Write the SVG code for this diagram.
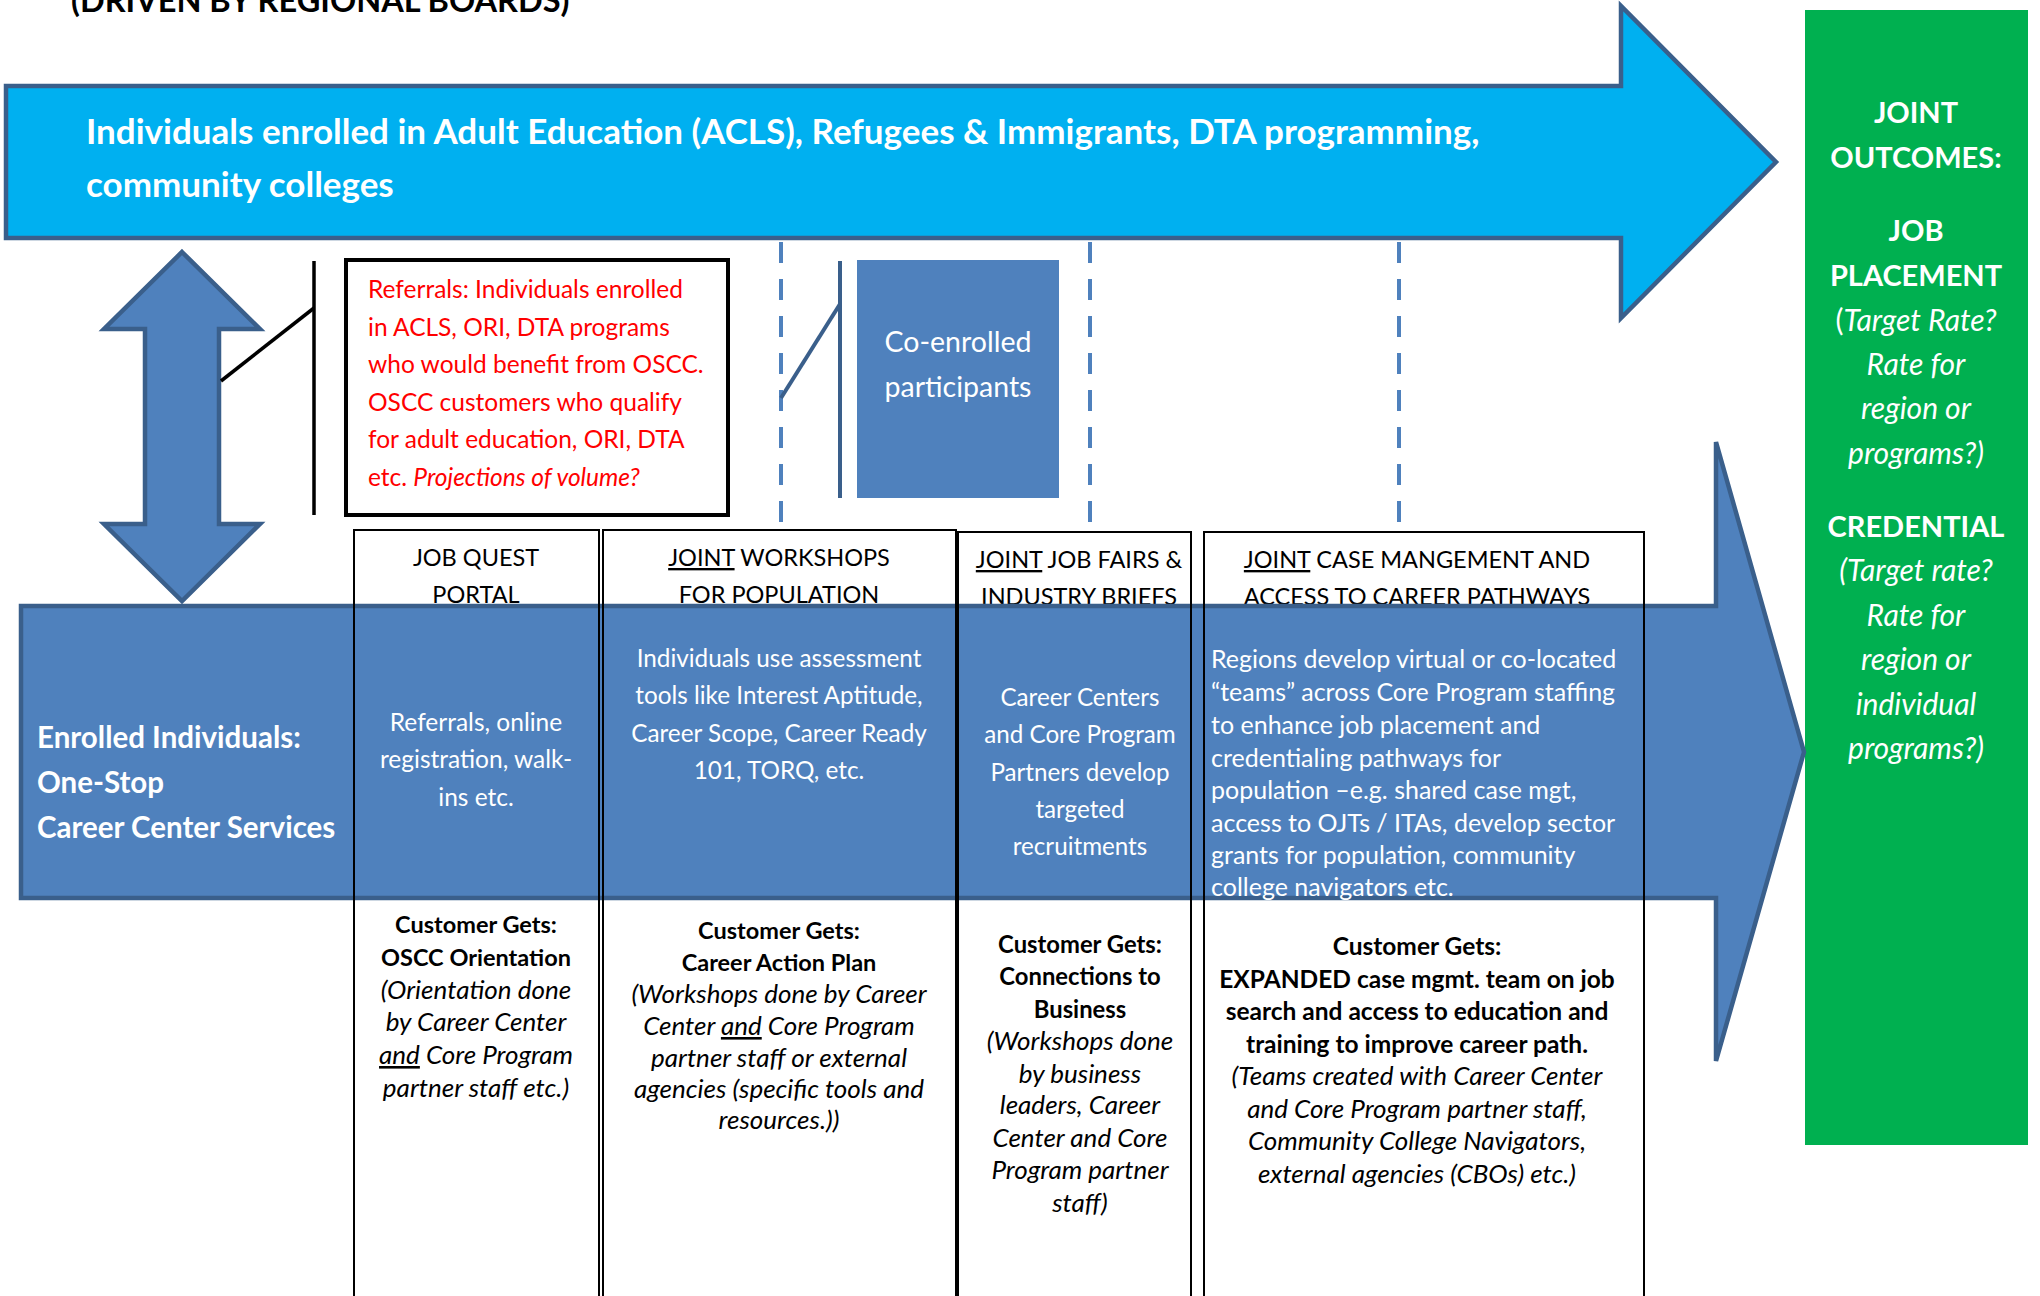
<svg xmlns="http://www.w3.org/2000/svg" width="2040" height="1296" viewBox="0 0 2040 1296">
<style>
text{font-family:Lato,"Open Sans","Liberation Sans",sans-serif}
.b{font-weight:bold}
.i{font-style:italic}
.w{fill:#FFFFFF}
.k{fill:#000000}
.r{fill:#FF0000}
.m{text-anchor:middle}
.u{text-decoration:underline}
.arrowLB{fill:#00B0F0;stroke:#3A5F8B;stroke-width:4.5;stroke-linejoin:miter}
.arrowMB{fill:#4F81BD;stroke:#3A5F8B;stroke-width:4.5;stroke-linejoin:miter}
.col{fill:none;stroke:#000000;stroke-width:2}
.dash{stroke:#4F81BD;stroke-width:4;stroke-dasharray:21 16;fill:none}
.it{font-style:italic;font-size:26px}
</style>

<text id="title" class="b k" x="71" y="12" font-size="32.5">(DRIVEN BY REGIONAL BOARDS)</text>

<g id="outcomes">
<rect x="1805" y="10" width="223" height="1135" fill="#00B050"/>
<g class="w m" font-size="29">
<text class="b" x="1916" y="123">JOINT</text>
<text class="b" x="1916" y="168">OUTCOMES:</text>
<text class="b" x="1916" y="241">JOB</text>
<text class="b" x="1916" y="286">PLACEMENT</text>
<text x="1916" y="331" font-size="30">(<tspan class="i">Target Rate?</tspan></text>
<text class="i" x="1916" y="375" font-size="30">Rate for</text>
<text class="i" x="1916" y="419" font-size="30">region or</text>
<text class="i" x="1916" y="464" font-size="30">programs?)</text>
<text class="b" x="1916" y="537">CREDENTIAL</text>
<text class="i" x="1916" y="581" font-size="30">(Target rate?</text>
<text class="i" x="1916" y="626" font-size="30">Rate for</text>
<text class="i" x="1916" y="670" font-size="30">region or</text>
<text class="i" x="1916" y="715" font-size="30">individual</text>
<text class="i" x="1916" y="759" font-size="30">programs?)</text>
</g>
</g>

<g id="partner-programs">
<polygon class="arrowLB" points="6,86 1621,86 1621,6 1776,162 1621,318 1621,238 6,238"/>
<text class="b w" x="86" y="144" font-size="35">Individuals enrolled in Adult Education (ACLS), Refugees &amp; Immigrants, DTA programming,</text>
<text class="b w" x="86" y="197" font-size="35">community colleges</text>
</g>

<g id="two-way-arrow">
<polygon class="arrowMB" points="182,252 260,329 219,329 219,524 260,524 182,601 104,524 145,524 145,329 104,329"/>
</g>

<g id="connectors">
<line x1="221" y1="381" x2="314" y2="308" stroke="#000" stroke-width="3.5"/>
<line x1="314" y1="261" x2="314" y2="515" stroke="#000" stroke-width="3.5"/>
<line class="dash" x1="781" y1="242" x2="781" y2="533"/>
<line class="dash" x1="1090" y1="242" x2="1090" y2="533"/>
<line class="dash" x1="1399" y1="242" x2="1399" y2="533"/>
<line x1="781" y1="398" x2="840" y2="304" stroke="#3A5F8B" stroke-width="4"/>
<line x1="840" y1="261" x2="840" y2="498" stroke="#3A5F8B" stroke-width="4"/>
</g>

<g id="referrals">
<rect x="346" y="260" width="382" height="255" fill="#FFFFFF" stroke="#000" stroke-width="4"/>
<g class="r" font-size="24.5">
<text x="368" y="298">Referrals: Individuals enrolled</text>
<text x="368" y="336">in ACLS, ORI, DTA programs</text>
<text x="368" y="373">who would benefit from OSCC.</text>
<text x="368" y="411">OSCC customers who qualify</text>
<text x="368" y="448">for adult education, ORI, DTA</text>
<text x="368" y="486">etc. <tspan class="i">Projections of volume?</tspan></text>
</g>
</g>

<g id="co-enrolled">
<rect x="857" y="260" width="202" height="238" fill="#4F81BD"/>
<text class="w m" x="958" y="352" font-size="28.5">Co-enrolled</text>
<text class="w m" x="958" y="397" font-size="28.5">participants</text>
</g>

<g id="column-headers" class="k m" font-size="23.5">
<text x="476" y="566">JOB QUEST</text>
<text x="476" y="603">PORTAL</text>
<text x="779" y="566"><tspan class="u">JOINT</tspan> WORKSHOPS</text>
<text x="779" y="603">FOR POPULATION</text>
<text x="1079" y="568"><tspan class="u">JOINT</tspan> JOB FAIRS &amp;</text>
<text x="1079" y="605">INDUSTRY BRIEFS</text>
<text x="1417" y="568"><tspan class="u">JOINT</tspan> CASE MANGEMENT AND</text>
<text x="1417" y="605">ACCESS TO CAREER PATHWAYS</text>
</g>

<g id="one-stop">
<polygon class="arrowMB" points="21,606 1716,606 1716,442 1804,752 1716,1061 1716,898 21,898"/>
<g class="b w" font-size="29.5">
<text x="37" y="748">Enrolled Individuals:</text>
<text x="37" y="793">One-Stop</text>
<text x="37" y="838">Career Center Services</text>
</g>
</g>

<g id="col-job-quest">
<rect class="col" x="354" y="530" width="245" height="790"/>
<g class="w m" font-size="24.5">
<text x="476" y="731">Referrals, online</text>
<text x="476" y="768">registration, walk-</text>
<text x="476" y="806">ins etc.</text>
</g>
<g class="k m" font-size="23.5">
<text class="b" x="476" y="933">Customer Gets:</text>
<text class="b" x="476" y="966">OSCC Orientation</text>
<text class="it" x="476" y="999">(Orientation done</text>
<text class="it" x="476" y="1031">by Career Center</text>
<text class="it" x="476" y="1064"><tspan class="u">and</tspan> Core Program</text>
<text class="it" x="476" y="1097">partner staff etc.)</text>
</g>
</g>

<g id="col-workshops">
<rect class="col" x="603" y="530" width="353" height="790"/>
<g class="w m" font-size="24.3">
<text x="779" y="667">Individuals use assessment</text>
<text x="779" y="704">tools like Interest Aptitude,</text>
<text x="779" y="742">Career Scope, Career Ready</text>
<text x="779" y="779">101, TORQ, etc.</text>
</g>
<g class="k m" font-size="23.5">
<text class="b" x="779" y="939">Customer Gets:</text>
<text class="b" x="779" y="971">Career Action Plan</text>
<text class="it" x="779" y="1003">(Workshops done by Career</text>
<text class="it" x="779" y="1035">Center <tspan class="u">and</tspan> Core Program</text>
<text class="it" x="779" y="1067">partner staff or external</text>
<text class="it" x="779" y="1098">agencies (specific tools and</text>
<text class="it" x="779" y="1129">resources.))</text>
</g>
</g>

<g id="col-job-fairs">
<rect class="col" x="958" y="532" width="233" height="790"/>
<g class="w m" font-size="24.2">
<text x="1080" y="706">Career Centers</text>
<text x="1080" y="743">and Core Program</text>
<text x="1080" y="781">Partners develop</text>
<text x="1080" y="818">targeted</text>
<text x="1080" y="855">recruitments</text>
</g>
<g class="k m" font-size="23.8">
<text class="b" x="1080" y="953">Customer Gets:</text>
<text class="b" x="1080" y="985">Connections to</text>
<text class="b" x="1080" y="1018">Business</text>
<text class="it" x="1080" y="1050">(Workshops done</text>
<text class="it" x="1080" y="1083">by business</text>
<text class="it" x="1080" y="1114">leaders, Career</text>
<text class="it" x="1080" y="1147">Center and Core</text>
<text class="it" x="1080" y="1179">Program partner</text>
<text class="it" x="1080" y="1212">staff)</text>
</g>
</g>

<g id="col-case-management">
<rect class="col" x="1204" y="532" width="440" height="790"/>
<g class="w" font-size="25">
<text x="1211" y="668">Regions develop virtual or co-located</text>
<text x="1211" y="701">“teams” across Core Program staffing</text>
<text x="1211" y="734">to enhance job placement and</text>
<text x="1211" y="767">credentialing pathways for</text>
<text x="1211" y="799">population –e.g. shared case mgt,</text>
<text x="1211" y="832">access to OJTs / ITAs, develop sector</text>
<text x="1211" y="864">grants for population, community</text>
<text x="1211" y="896">college navigators etc.</text>
</g>
<g class="k m" font-size="24.5">
<text class="b" x="1417" y="955">Customer Gets:</text>
<text class="b" x="1417" y="988">EXPANDED case mgmt. team on job</text>
<text class="b" x="1417" y="1020">search and access to education and</text>
<text class="b" x="1417" y="1053">training to improve career path.</text>
<text class="it" x="1417" y="1085">(Teams created with Career Center</text>
<text class="it" x="1417" y="1118">and Core Program partner staff,</text>
<text class="it" x="1417" y="1150">Community College Navigators,</text>
<text class="it" x="1417" y="1183">external agencies (CBOs) etc.)</text>
</g>
</g>
</svg>
